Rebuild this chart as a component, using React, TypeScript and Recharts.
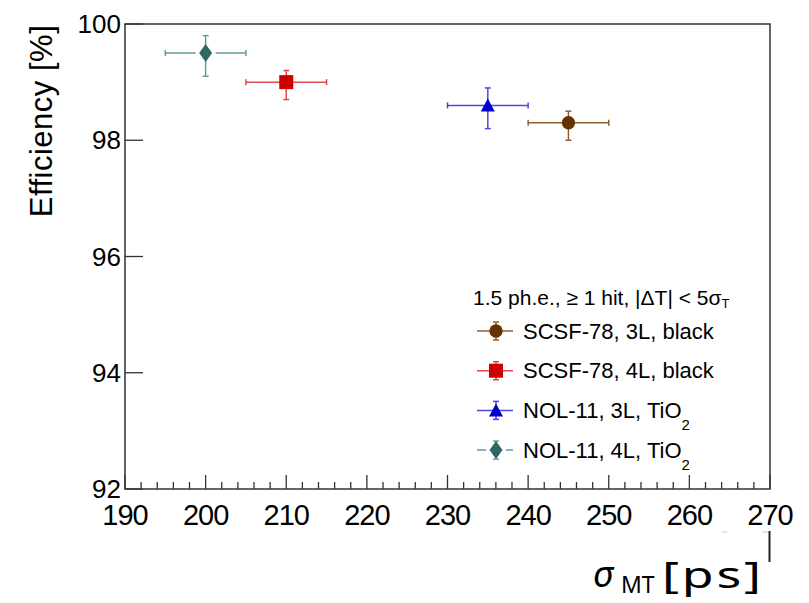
import React from 'react'
import { ScatterChart, Scatter, XAxis, YAxis, ErrorBar, ReferenceArea, Legend } from 'recharts'

// values
const seriesNames = ['SCSF-78, 3L, black', 'SCSF-78, 4L, black', 'NOL-11, 3L, TiO', 'NOL-11, 4L, TiO']
const seriesSubs = ['', '', '2', '2']
const sigmaMT = [245, 210, 235, 200]
const sigmaErr = [5, 5, 5, 5]
const efficiency = [98.3, 99.0, 98.6, 99.5]
const effErrDown = [0.3, 0.3, 0.4, 0.4]
const effErrUp = [0.2, 0.2, 0.3, 0.3]

const markers = ['circle', 'square', 'triangle', 'diamond']
const markerColors = ['#663300', '#cc0000', '#0000cc', '#2f6666']
const barColors = ['#8d5f35', '#e04a4a', '#4848e6', '#669999']

const xMajorTicks = [190, 200, 210, 220, 230, 240, 250, 260, 270]
const yTicks = [92, 94, 96, 98, 100]
const legendHeader = '1.5 ph.e., \u2265 1 hit, |\u0394T| < 5\u03c3'

// minor ticks every 2 ps between the majors
const xTicks: number[] = []
for (let v = xMajorTicks[0]; v <= xMajorTicks[xMajorTicks.length - 1]; v += 2) xTicks.push(v)

const FONT = '"Liberation Sans", Arial, Helvetica, sans-serif'
const FRAME = '#333'

function Marker({ kind, cx, cy, fill }: { kind: string; cx: number; cy: number; fill: string }) {
  if (kind === 'circle') return <circle cx={cx} cy={cy} r={6.7} fill={fill} />
  if (kind === 'square') return <rect x={cx - 7} y={cy - 7} width={14} height={14} fill={fill} />
  if (kind === 'triangle')
    return <polygon points={`${cx},${cy - 7} ${cx + 7},${cy + 6} ${cx - 7},${cy + 6}`} fill={fill} />
  return (
    <g>
      <rect x={cx - 10} y={cy - 8} width={20} height={16} fill="#fff" />
      <polygon points={`${cx},${cy - 9} ${cx + 6.5},${cy} ${cx},${cy + 9} ${cx - 6.5},${cy}`} fill={fill} />
    </g>
  )
}

const XTick = (props: any) => {
  const { x, y, payload } = props
  const major = payload.value % 10 === 0
  return (
    <g>
      <line x1={x} y1={y} x2={x} y2={y - (major ? 14 : 7)} stroke={FRAME} strokeWidth={1.3} />
      {major && (
        <text x={x} y={y + 36} textAnchor="middle" fontFamily={FONT} fontSize={29} letterSpacing={-1} fill="#000">
          {payload.value}
        </text>
      )}
    </g>
  )
}

const YTick = (props: any) => {
  const { x, y, payload } = props
  return (
    <g>
      <line x1={x} y1={y} x2={x + 18} y2={y} stroke={FRAME} strokeWidth={1.3} />
      <text x={x - 4} y={y + 9} textAnchor="end" fontFamily={FONT} fontSize={26} fill="#000">
        {payload.value}
      </text>
    </g>
  )
}

const renderLegend = () => (
  <svg width={310} height={200} style={{ display: 'block' }}>
    <text x={11} y={30} fontFamily={FONT} fontSize={21} fill="#000">
      {legendHeader}
      <tspan fontSize={13} dy={3}>T</tspan>
    </text>
    {seriesNames.map((name, i) => {
      const cy = 56 + i * 39.7
      return (
        <g key={name}>
          <line x1={15} y1={cy} x2={51} y2={cy} stroke={barColors[i]} strokeWidth={1.5} />
          <line x1={34} y1={cy - 9} x2={34} y2={cy + 9} stroke={barColors[i]} strokeWidth={1.5} />
          <line x1={31} y1={cy - 9} x2={37} y2={cy - 9} stroke={barColors[i]} strokeWidth={1.5} />
          <line x1={31} y1={cy + 9} x2={37} y2={cy + 9} stroke={barColors[i]} strokeWidth={1.5} />
          <Marker kind={markers[i] === 'diamond' ? 'diamondLegend' : markers[i]} cx={34} cy={cy} fill={markerColors[i]} />
          <text x={61} y={cy + 7.7} fontFamily={FONT} fontSize={22} fill="#000">
            {name}
            {seriesSubs[i] && (
              <tspan fontSize={15} dy={12}>
                {seriesSubs[i]}
              </tspan>
            )}
          </text>
        </g>
      )
    })}
  </svg>
)

export default function App() {
  const series = seriesNames.map((name, i) => ({
    name,
    data: [
      {
        sigma: sigmaMT[i],
        eff: efficiency[i],
        sigmaErr: [sigmaErr[i], sigmaErr[i]],
        effErr: [effErrDown[i], effErrUp[i]],
      },
    ],
  }))

  return (
    <div style={{ position: 'absolute', left: 0, top: 0, width: 809, height: 603, background: '#fff' }}>
      <ScatterChart width={809} height={603} margin={{ top: 24, right: 39, bottom: 0, left: 0 }}>
        <XAxis
          type="number"
          dataKey="sigma"
          domain={[190, 270]}
          ticks={xTicks}
          interval={0}
          tick={<XTick />}
          tickSize={0}
          tickMargin={0}
          tickLine={false}
          axisLine={false}
          height={114}
          allowDataOverflow
          label={{
            content: () => (
              <g>
                <text x={593} y={587} fontFamily='"Noto Sans", sans-serif' fontStyle="italic" fontSize={36} fill="#000">
                  σ
                </text>
                <text x={621} y={593} fontFamily='"Noto Sans", sans-serif' fontSize={23} fill="#000">
                  MT
                </text>
                <text
                  transform="translate(662,588) scale(1.4,1)"
                  fontFamily='"Noto Sans", sans-serif'
                  fontSize={37}
                  letterSpacing={2}
                  fill="#000"
                >
                  [ps]
                </text>
                <line x1={769.5} y1={531} x2={769.5} y2={562} stroke="#222" strokeWidth={2} />
                <line x1={722} y1={532} x2={727} y2={532} stroke="#ccc" strokeWidth={1} />
                <line x1={762} y1={532} x2={768} y2={532} stroke="#ccc" strokeWidth={1} />
              </g>
            ),
          }}
        />
        <YAxis
          type="number"
          dataKey="eff"
          domain={[92, 100]}
          ticks={yTicks}
          interval={0}
          tick={<YTick />}
          tickSize={0}
          tickMargin={0}
          tickLine={false}
          axisLine={false}
          width={125}
          allowDataOverflow
          label={{
            content: () => (
              <text
                x={52}
                y={121}
                transform="rotate(-90, 52, 121)"
                textAnchor="middle"
                fontFamily={FONT}
                fontSize={31}
                letterSpacing={0.5}
                fill="#000"
              >
                Efficiency [%]
              </text>
            ),
          }}
        />
        <ReferenceArea x1={190} x2={270} y1={92} y2={100} fill="none" stroke={FRAME} strokeWidth={1.5} ifOverflow="visible" />
        {series.map((s, i) => (
          <Scatter
            key={s.name}
            name={s.name}
            data={s.data}
            fill={markerColors[i]}
            isAnimationActive={false}
            shape={(p: any) => <Marker kind={markers[i]} cx={p.cx} cy={p.cy} fill={markerColors[i]} />}
          >
            <ErrorBar dataKey="sigmaErr" direction="x" width={3} stroke={barColors[i]} strokeWidth={1.5} />
            <ErrorBar dataKey="effErr" direction="y" width={3} stroke={barColors[i]} strokeWidth={1.5} />
          </Scatter>
        ))}
        <Legend
          layout="vertical"
          align="center"
          verticalAlign="middle"
          wrapperStyle={{ position: 'absolute', left: 462, top: 275, width: 310, height: 200 }}
          content={renderLegend}
        />
      </ScatterChart>
    </div>
  )
}
